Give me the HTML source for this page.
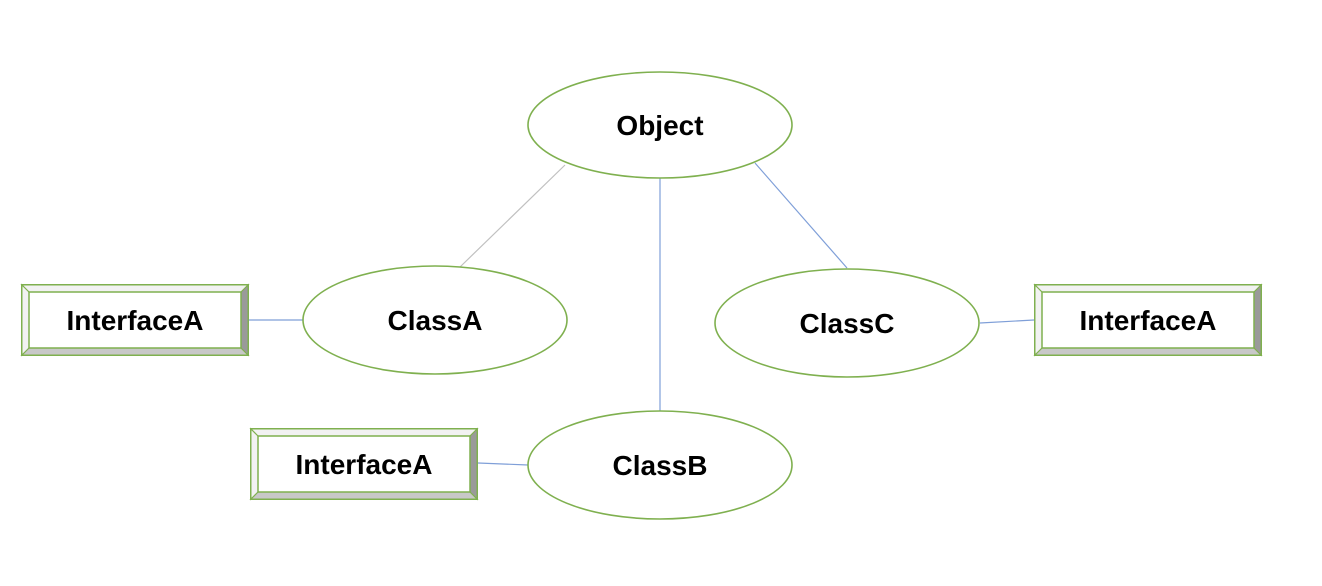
<!DOCTYPE html>
<html><head><meta charset="utf-8"><style>
html,body{margin:0;padding:0;background:#fff;}
svg{display:block}
text{font-family:"Liberation Sans",Arial,sans-serif;font-weight:bold;font-size:28px;fill:#000;}
</style></head><body>
<svg width="1322" height="586" viewBox="0 0 1322 586">
<defs>
<g id="box">
  <!-- 228 x 72 -->
  <polygon points="0,0 228,0 220,8 8,8" fill="#f2f2f2"/>
  <polygon points="0,0 8,8 8,64 0,72" fill="#f2f2f2"/>
  <polygon points="228,0 228,72 220,64 220,8" fill="#9a9a9a"/>
  <polygon points="0,72 8,64 220,64 228,72" fill="#c8c8c8"/>
  <rect x="0.75" y="0.75" width="226.5" height="70.5" fill="none" stroke="#7fb04f" stroke-width="1.5"/>
  <rect x="8" y="8" width="212" height="56" fill="#fff" stroke="#7fb04f" stroke-width="1.5"/>
  <line x1="0" y1="0" x2="8" y2="8" stroke="#7fb04f" stroke-width="1.2"/>
  <line x1="228" y1="0" x2="220" y2="8" stroke="#7fb04f" stroke-width="1.2"/>
  <line x1="0" y1="72" x2="8" y2="64" stroke="#7fb04f" stroke-width="1.2"/>
  <line x1="228" y1="72" x2="220" y2="64" stroke="#7fb04f" stroke-width="1.2"/>
</g>
</defs>
<!-- connectors -->
<line x1="565" y1="165" x2="460" y2="267" stroke="#c0c0c0" stroke-width="1.2"/>
<line x1="660" y1="178" x2="660" y2="411" stroke="#7f9fd8" stroke-width="1.2"/>
<line x1="755" y1="163" x2="847" y2="268" stroke="#7f9fd8" stroke-width="1.2"/>
<line x1="248" y1="320" x2="303" y2="320" stroke="#7f9fd8" stroke-width="1.2"/>
<line x1="980" y1="323" x2="1034" y2="320" stroke="#7f9fd8" stroke-width="1.2"/>
<line x1="478" y1="463" x2="528" y2="465" stroke="#7f9fd8" stroke-width="1.2"/>
<!-- ellipses -->
<ellipse cx="660" cy="125" rx="132" ry="53" fill="#fff" stroke="#7fb04f" stroke-width="1.6"/>
<text x="660" y="135" text-anchor="middle">Object</text>
<ellipse cx="435" cy="320" rx="132" ry="54" fill="#fff" stroke="#7fb04f" stroke-width="1.6"/>
<text x="435" y="330" text-anchor="middle">ClassA</text>
<ellipse cx="847" cy="323" rx="132" ry="54" fill="#fff" stroke="#7fb04f" stroke-width="1.6"/>
<text x="847" y="333" text-anchor="middle">ClassC</text>
<ellipse cx="660" cy="465" rx="132" ry="54" fill="#fff" stroke="#7fb04f" stroke-width="1.6"/>
<text x="660" y="475" text-anchor="middle">ClassB</text>
<!-- boxes -->
<use href="#box" x="21" y="284"/>
<text x="135" y="330" text-anchor="middle">InterfaceA</text>
<use href="#box" x="1034" y="284"/>
<text x="1148" y="330" text-anchor="middle">InterfaceA</text>
<use href="#box" x="250" y="428"/>
<text x="364" y="474" text-anchor="middle">InterfaceA</text>
</svg>
</body></html>
